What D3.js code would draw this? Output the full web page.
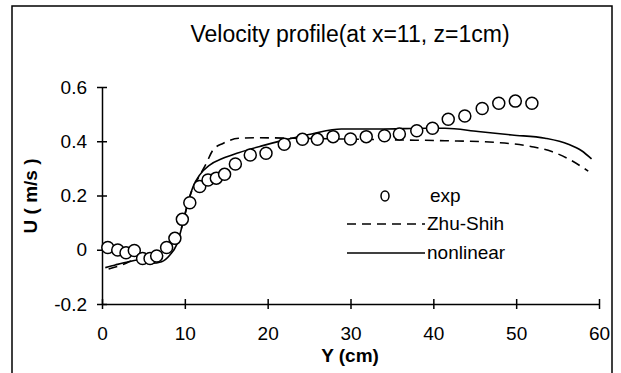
<html>
<head>
<style>
  body { margin: 0; background: #fff; }
  text { font-family: "Liberation Sans", Arial, sans-serif; fill: #000; }
</style>
</head>
<body>
<svg id="chart" width="621" height="373"></svg>
<script src="https://cdn.jsdelivr.net/npm/d3@7"></script>
<script>
// experimental points: Y (cm), U (m/s)
let expY = [0.7, 1.9, 2.9, 3.9, 4.9, 5.8, 6.6, 7.8, 8.8, 9.7, 10.6, 11.8, 12.8, 13.8, 14.8, 16.1, 17.9, 19.8, 22.0, 24.2, 26.0, 27.9, 30.0, 31.9, 34.1, 35.9, 38.0, 39.9, 41.8, 43.8, 45.9, 47.9, 49.9, 51.9]
let expU = [0.008, -0.001, -0.011, -0.003, -0.032, -0.032, -0.023, 0.008, 0.042, 0.112, 0.173, 0.233, 0.257, 0.264, 0.278, 0.316, 0.349, 0.356, 0.389, 0.407, 0.407, 0.417, 0.408, 0.417, 0.420, 0.427, 0.439, 0.448, 0.481, 0.493, 0.521, 0.540, 0.548, 0.540]

let zhuY = [0.8, 2.4, 3.6, 5.2, 6.8, 8.0, 9.0, 9.7, 10.2, 10.8, 11.6, 12.6, 13.4, 14.6, 16.5, 18.5, 23.3, 29.3, 35.4, 41.4, 47.4, 51.9, 54.3, 56.3, 58.7]
let zhuU = [-0.071, -0.056, -0.041, -0.034, -0.026, -0.007, 0.030, 0.091, 0.153, 0.214, 0.263, 0.319, 0.368, 0.392, 0.411, 0.413, 0.411, 0.408, 0.405, 0.402, 0.396, 0.380, 0.362, 0.335, 0.290]

let nlY = [0.4, 1.6, 3.2, 4.4, 6.0, 7.2, 8.2, 9.0, 9.5, 9.9, 10.4, 11.0, 11.8, 13.0, 14.6, 16.5, 19.3, 22.1, 25.3, 28.9, 33.4, 39.4, 41.4, 45.4, 49.5, 53.5, 56.3, 57.9, 59.1]
let nlU = [-0.066, -0.056, -0.044, -0.038, -0.050, -0.044, -0.019, 0.018, 0.067, 0.116, 0.177, 0.233, 0.276, 0.312, 0.337, 0.358, 0.383, 0.405, 0.427, 0.445, 0.445, 0.448, 0.448, 0.436, 0.423, 0.411, 0.389, 0.365, 0.335]

let xTicks = [0, 10, 20, 30, 40, 50, 60]
let yTicks = [-0.2, 0, 0.2, 0.4, 0.6]
let yTickLabels = ["-0.2", "0", "0.2", "0.4", "0.6"]
let legendNames = ["exp", "Zhu-Shih", "nonlinear"]

let svg = d3.select("#chart")

// outer frame
svg.append("rect")
    .attr("x", 12).attr("y", 6)
    .attr("width", 600).attr("height", 420)
    .attr("fill", "none").attr("stroke", "#000").attr("stroke-width", 1.5)

let x = d3.scaleLinear().domain([0, 60]).range([102, 599])
let y = d3.scaleLinear().domain([-0.2, 0.6]).range([304, 87])

svg.append("text")
    .attr("x", 350).attr("y", 42)
    .attr("text-anchor", "middle")
    .style("font-size", "23px")
    .text("Velocity profile(at x=11, z=1cm)")

let xAxis = svg.append("g")
    .attr("transform", "translate(0,304)")
    .call(d3.axisBottom(x).tickValues(xTicks).tickSizeInner(5).tickSizeOuter(0).tickPadding(18))
let yAxis = svg.append("g")
    .attr("transform", "translate(102,0)")
    .call(d3.axisLeft(y).tickValues(yTicks).tickSizeInner(5).tickSizeOuter(0).tickPadding(10)
        .tickFormat((d, i) => yTickLabels[i]))

// ticks cross the axis line
xAxis.selectAll(".tick line").attr("y1", -5)
yAxis.selectAll(".tick line").attr("x1", 5)
for (let g of [xAxis, yAxis]) {
    g.selectAll("path, line").attr("stroke", "#000").attr("stroke-width", 1.5)
    g.selectAll("text").style("font-size", "19px").attr("fill", "#000")
    g.attr("font-family", null).attr("font-size", null)
}

svg.append("text")
    .attr("x", 350).attr("y", 362)
    .attr("text-anchor", "middle")
    .style("font-size", "19px").style("font-weight", "bold")
    .text("Y (cm)")

svg.append("text")
    .attr("transform", "translate(37,196) rotate(-90)")
    .attr("text-anchor", "middle")
    .style("font-size", "19px").style("font-weight", "bold")
    .text("U ( m/s )")

let line = d3.line().x(d => x(d[0])).y(d => y(d[1])).curve(d3.curveMonotoneX)

svg.append("path")
    .datum(zhuY.map((v, i) => [v, zhuU[i]]))
    .attr("d", line)
    .attr("fill", "none").attr("stroke", "#000").attr("stroke-width", 1.6)
    .attr("stroke-dasharray", "9,6")

svg.append("path")
    .datum(nlY.map((v, i) => [v, nlU[i]]))
    .attr("d", line)
    .attr("fill", "none").attr("stroke", "#000").attr("stroke-width", 1.6)

svg.append("g").selectAll("circle")
    .data(expY.map((v, i) => [v, expU[i]]))
    .enter()
    .append("circle")
    .attr("cx", d => x(d[0]))
    .attr("cy", d => y(d[1]))
    .attr("r", 6)
    .attr("fill", "#fff").attr("stroke", "#000").attr("stroke-width", 1.5)

// legend
let legend = svg.append("g")
let rows = [195, 223, 252]
legend.append("ellipse")
    .attr("cx", 385).attr("cy", rows[0] + 1)
    .attr("rx", 4).attr("ry", 5)
    .attr("fill", "none").attr("stroke", "#000").attr("stroke-width", 1.5)
legend.append("line")
    .attr("x1", 347).attr("x2", 425).attr("y1", rows[1] + 1).attr("y2", rows[1] + 1)
    .attr("stroke", "#000").attr("stroke-width", 1.6).attr("stroke-dasharray", "9,6")
legend.append("line")
    .attr("x1", 347).attr("x2", 425).attr("y1", rows[2] + 1).attr("y2", rows[2] + 1)
    .attr("stroke", "#000").attr("stroke-width", 1.4)
legend.selectAll("text")
    .data(legendNames)
    .enter()
    .append("text")
    .attr("x", (d, i) => i == 0 ? 430 : 427)
    .attr("y", (d, i) => rows[i] + 7)
    .style("font-size", "19px")
    .text(d => d)
</script>
</body>
</html>
